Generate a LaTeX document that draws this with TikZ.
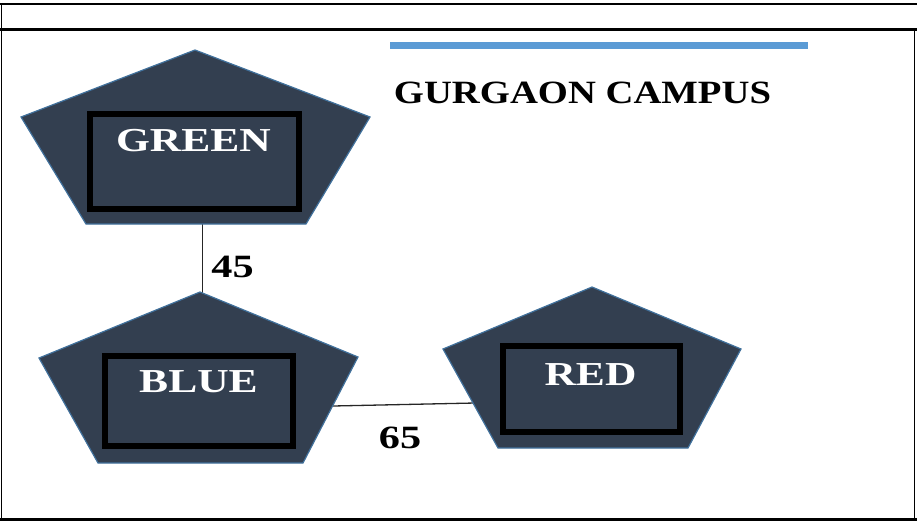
\documentclass[tikz,border=0pt]{standalone}
\usepackage{graphicx}
\usepackage{fontspec}
\setmainfont{Liberation Serif}
\definecolor{pfill}{HTML}{333F50}
\definecolor{pline}{HTML}{41719C}
\definecolor{barblue}{HTML}{5B9BD5}
\begin{document}
\begin{tikzpicture}[x=1pt,y=-1pt,
  pent/.style={fill=pfill,draw=pline,line width=1.2pt,line join=miter},
  boxnode/.style={draw=black,line width=6.5pt,inner sep=0pt,outer sep=0pt},
  boxlbl/.style={text=white,font=\bfseries\fontsize{33.5}{33.5}\selectfont,inner sep=0pt,anchor=base},
  numlbl/.style={text=black,font=\bfseries\fontsize{32.5}{32.5}\selectfont,inner sep=0pt,anchor=base},
  conn/.style={draw=black!85,line width=1.3pt},
  frame/.style={draw=black}]
\useasboundingbox (0,0) rectangle (917,522);
% frame
\draw[frame,line width=2pt] (0,3.7) -- (917,3.7);
\draw[frame,line width=3pt] (0,29.5) -- (917,29.5);
\draw[frame,line width=3pt] (0,519.5) -- (917,519.5);
\draw[frame,line width=1.2pt] (1.5,3) -- (1.5,521);
\draw[frame,line width=1.2pt] (914.5,29) -- (914.5,521);
% title bar and title
\draw[draw=barblue,line width=7pt] (390,45.5) -- (808,45.5);
\node[numlbl,font=\bfseries\fontsize{32.5}{32.5}\selectfont] (title) at (582.5,103) {\scalebox{1.19}[1]{GURGAON CAMPUS}};
% connector anchor points
\coordinate (gbot) at (202.5,224);
\coordinate (btop) at (202.5,293);
\coordinate (bright) at (333,406);
\coordinate (rleft) at (475,403);
\draw[conn] (gbot) -- (btop);
\draw[conn] (bright) -- (rleft);
% pentagons
\draw[pent] (195,50) -- (370,117) -- (306,224) -- (86,224) -- (21,117) -- cycle;
\draw[pent] (200,292) -- (358,357) -- (303,463) -- (98,463) -- (39,358) -- cycle;
\draw[pent] (592,287) -- (741,349) -- (688,448) -- (498,448) -- (443,349) -- cycle;
% inner boxes
\node[boxnode,minimum width=209pt,minimum height=95pt] (gbox) at (194.5,161.5) {};
\node[boxnode,minimum width=188pt,minimum height=90pt] (bbox) at (199,401) {};
\node[boxnode,minimum width=177pt,minimum height=86pt] (rbox) at (591.5,389) {};
% labels
\node[boxlbl] (gtext) at (193.5,151.5) {\scalebox{1.3}[1]{GREEN}};
\node[boxlbl] (btext) at (198.5,392) {\scalebox{1.3}[1]{BLUE}};
\node[boxlbl] (rtext) at (590.5,385) {\scalebox{1.3}[1]{RED}};
\node[numlbl] (n45) at (232.5,277.5) {\scalebox{1.3}[1]{45}};
\node[numlbl] (n65) at (400,448.5) {\scalebox{1.3}[1]{65}};
\end{tikzpicture}
\end{document}
